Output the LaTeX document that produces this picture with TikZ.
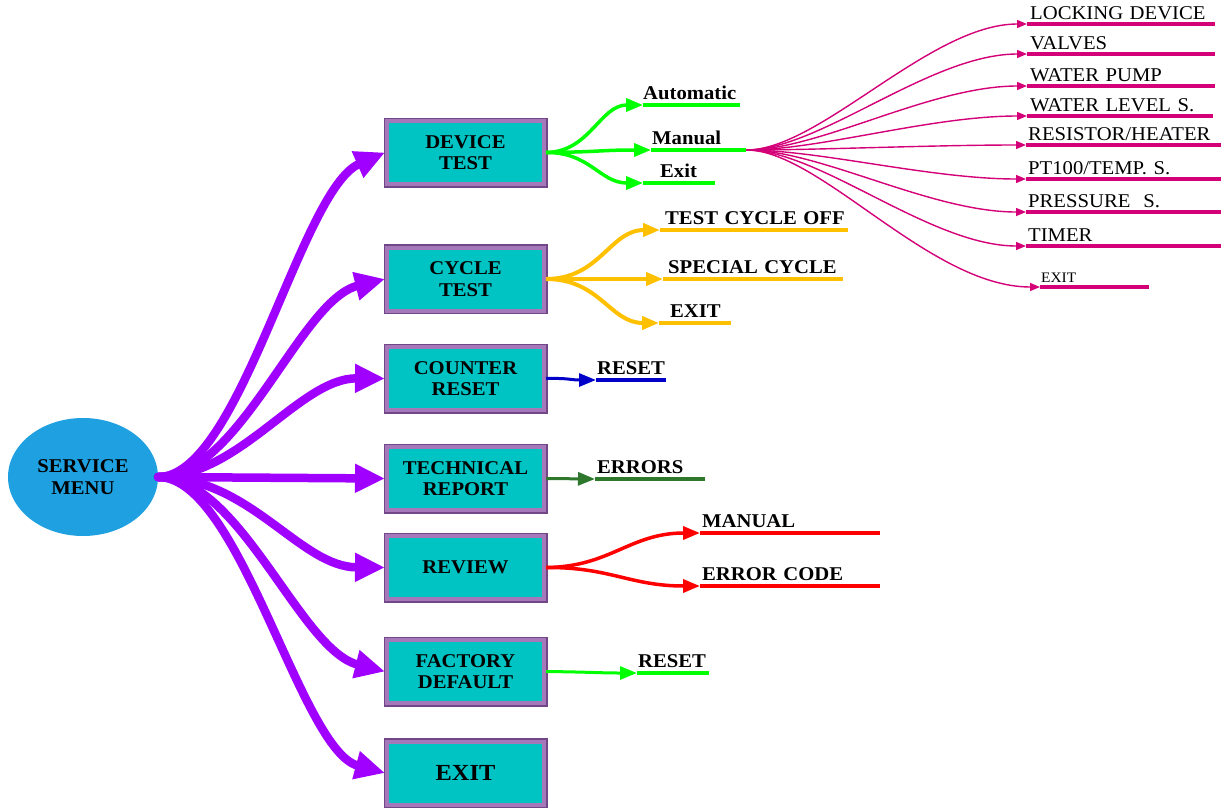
\documentclass[tikz,border=0pt]{standalone}
\usepackage{fontspec}
\setmainfont{Liberation Serif}[FakeStretch=1.06]
\usetikzlibrary{arrows.meta,shapes.geometric}

\definecolor{menublue}{RGB}{30,160,225}
\definecolor{boxteal}{RGB}{0,196,196}
\definecolor{frameout}{RGB}{115,70,135}
\definecolor{framein}{RGB}{165,120,185}
\definecolor{vio}{RGB}{160,0,255}
\definecolor{lime}{RGB}{0,255,0}
\definecolor{amber}{RGB}{255,192,0}
\definecolor{deepblue}{RGB}{0,0,200}
\definecolor{forest}{RGB}{45,120,45}
\definecolor{redline}{RGB}{255,0,0}
\definecolor{rose}{RGB}{212,0,120}

\newcommand\boxfont{\fontsize{19.5}{21.5}\selectfont\bfseries}
\newcommand\bigboxfont{\fontsize{23}{25}\selectfont\bfseries}
\newcommand\labfont{\fontsize{19.5}{21.5}\selectfont\bfseries}
\newcommand\subfont{\fontsize{19.5}{21.5}\selectfont}
\newcommand\tinyfont{\fontsize{14.5}{16}\selectfont}

\begin{document}
\begin{tikzpicture}[x=1pt,y=-1pt,
  menubox/.style={rectangle, fill=boxteal, draw=framein, line width=4pt,
    preaction={draw=frameout, line width=7pt},
    minimum width=157pt, minimum height=63pt, inner sep=0pt,
    align=center, font=\boxfont},
  lab/.style={anchor=south west, inner xsep=0pt, inner ysep=5pt,
    text depth=0pt, align=left, font=\labfont},
  sublab/.style={lab, inner ysep=4pt, font=\subfont},
  mainarrow/.style={draw=vio, line width=8.5pt, line cap=round,
    -{Triangle[length=30pt,width=27pt]}},
  brancharrow/.style={line width=3.5pt, -{Triangle[length=17pt,width=13pt]}},
  underline/.style={line width=4.5pt},
  finearrow/.style={draw=rose, line width=1.4pt, -{Triangle[length=10pt,width=8pt]}},
]
\useasboundingbox (0,0) rectangle (1228,809);

% root of the menu tree
\node[ellipse, fill=menublue, minimum width=150pt, minimum height=118pt,
      inner sep=0pt, align=center, font=\boxfont] (menu) at (83,477) {SERVICE\\MENU};

% first-level menu entries
\node[menubox] (dev) at (465.5,152.5) {DEVICE\\TEST};
\node[menubox] (cyc) at (465.5,279) {CYCLE\\TEST};
\node[menubox] (cnt) at (465.5,378.5) {COUNTER\\RESET};
\node[menubox] (tec) at (465.5,478.5) {TECHNICAL\\REPORT};
\node[menubox] (rev) at (465.5,567.5) {REVIEW};
\node[menubox] (fac) at (465.5,671.5) {FACTORY\\DEFAULT};
\node[menubox, font=\bigboxfont] (ext) at (465.5,773) {EXIT};

\draw[mainarrow] (menu.east) .. controls (240,477) and (300,190) .. (dev.west);
\draw[mainarrow] (menu.east) .. controls (240,477) and (300,300) .. (cyc.west);
\draw[mainarrow] (menu.east) .. controls (240,477) and (300,378) .. (cnt.west);
\draw[mainarrow] (menu.east) -- (tec.west);
\draw[mainarrow] (menu.east) .. controls (250,477) and (300,567) .. (rev.west);
\draw[mainarrow] (menu.east) .. controls (240,477) and (300,650) .. (fac.west);
\draw[mainarrow] (menu.east) .. controls (240,477) and (300,750) .. (ext.west);

% DEVICE TEST branches
\node[lab, text width=97pt] (auto) at (643,105) {Automatic};
\node[lab, text width=95pt] (man) at (651,150) {\hspace*{1pt}Manual};
\node[lab, text width=72pt] (dexit) at (643,183) {\hspace*{17pt}Exit};
\foreach \n in {auto,man,dexit}
  \draw[underline, lime] (\n.south west) -- (\n.south east);
\draw[brancharrow, lime] (dev.east) .. controls (590,152) and (600,105) .. (auto.south west);
\draw[brancharrow, lime] (dev.east) .. controls (600,152) and (600,150) .. (man.south west);
\draw[brancharrow, lime] (dev.east) .. controls (590,152) and (600,183) .. (dexit.south west);

% Manual test sub-items
\node[sublab, text width=188pt] (lock) at (1027,24) {\hspace*{3pt}LOCKING DEVICE};
\node[sublab, text width=188pt] (valv) at (1027,54) {\hspace*{3pt}VALVES};
\node[sublab, text width=188pt] (pump) at (1027,86) {\hspace*{3pt}WATER PUMP};
\node[sublab, text width=186pt] (level) at (1027,116) {\hspace*{3pt}WATER LEVEL S.};
\node[sublab, text width=195pt] (heat) at (1026,145) {\hspace*{2pt}RESISTOR/HEATER};
\node[sublab, text width=195pt] (pt) at (1026,179) {\hspace*{2pt}PT100/TEMP. S.};
\node[sublab, text width=195pt] (press) at (1026,212) {\hspace*{2pt}PRESSURE~ S.};
\node[sublab, text width=195pt] (timer) at (1026,246) {\hspace*{2pt}TIMER};
\node[sublab, text width=109pt, font=\tinyfont] (mexit) at (1040,287) {\hspace*{1pt}EXIT};
\foreach \n in {lock,valv,pump,level,heat,pt,press,timer,mexit}{
  \draw[underline, rose, line width=4pt] (\n.south west) -- (\n.south east);
  \draw[finearrow] (man.south east) .. controls (820,150) and (930,0 |- \n.south west) .. (\n.south west);
}

% CYCLE TEST branches
\node[lab, text width=188pt] (tco) at (660,230) {\hspace*{5pt}TEST CYCLE OFF};
\node[lab, text width=180pt] (spc) at (663,279) {\hspace*{5pt}SPECIAL CYCLE};
\node[lab, text width=72pt] (cexit) at (659,323) {\hspace*{11pt}EXIT};
\foreach \n in {tco,spc,cexit}
  \draw[underline, amber] (\n.south west) -- (\n.south east);
\draw[brancharrow, amber, line width=4pt] (cyc.east) .. controls (600,279) and (610,230) .. (tco.south west);
\draw[brancharrow, amber, line width=4pt] (cyc.east) -- (spc.south west);
\draw[brancharrow, amber, line width=4pt] (cyc.east) .. controls (600,279) and (610,323) .. (cexit.south west);

% COUNTER RESET branch
\node[lab, text width=70pt] (creset) at (596,380) {\hspace*{1pt}RESET};
\draw[underline, deepblue] (creset.south west) -- (creset.south east);
\draw[brancharrow, deepblue, line width=3pt] (cnt.east) .. controls (570,378) and (570,380) .. (creset.south west);

% TECHNICAL REPORT branch
\node[lab, text width=110pt] (err) at (595,479) {\hspace*{2pt}ERRORS};
\draw[underline, forest] (err.south west) -- (err.south east);
\draw[brancharrow, forest, line width=3pt] (tec.east) -- (err.south west);

% REVIEW branches
\node[lab, text width=180pt] (rman) at (700,533) {\hspace*{2pt}MANUAL};
\node[lab, text width=180pt] (rerr) at (700,586) {\hspace*{2pt}ERROR CODE};
\foreach \n in {rman,rerr}
  \draw[underline, redline] (\n.south west) -- (\n.south east);
\draw[brancharrow, redline] (rev.east) .. controls (610,567) and (630,533) .. (rman.south west);
\draw[brancharrow, redline] (rev.east) .. controls (610,567) and (630,586) .. (rerr.south west);

% FACTORY DEFAULT branch
\node[lab, text width=72pt] (freset) at (637,673) {\hspace*{1pt}RESET};
\draw[underline, lime] (freset.south west) -- (freset.south east);
\draw[brancharrow, lime, line width=3pt] (fac.east) .. controls (590,672) and (600,673) .. (freset.south west);

\end{tikzpicture}
\end{document}
